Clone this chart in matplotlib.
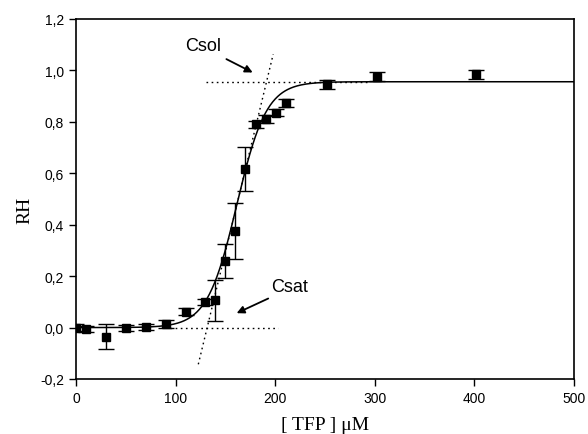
import numpy as np
import matplotlib
matplotlib.use("Agg")
import matplotlib.pyplot as plt

# ---- data ----
tfp = [0, 10, 30, 50, 70, 90, 110, 130, 140, 150, 160, 170, 181, 191, 201, 211, 252, 302, 402]
rh = [0.0, -0.004, -0.035, -0.003, 0.003, 0.013, 0.062, 0.100, 0.106, 0.258, 0.375, 0.618, 0.790, 0.812, 0.836, 0.873, 0.946, 0.976, 0.985]
rh_err = [0.012, 0.012, 0.047, 0.012, 0.012, 0.015, 0.015, 0.012, 0.080, 0.066, 0.110, 0.085, 0.015, 0.015, 0.015, 0.015, 0.018, 0.018, 0.018]

# Boltzmann fit parameters
fit_A1 = 0.0
fit_A2 = 0.956
fit_x0 = 161.5
fit_dx = 14.9

# tangent / limit lines
csat = 131.7
csol = 191.3
tangent_x = [122.8, 198.0]
low_line_x = [94, 203]
high_line_x = [131, 292]

xticks = [0, 100, 200, 300, 400, 500]
yticks = [-0.2, 0.0, 0.2, 0.4, 0.6, 0.8, 1.0, 1.2]
ytick_labels = ["-0,2", "0,0", "0,2", "0,4", "0,6", "0,8", "1,0", "1,2"]

fig = plt.figure(figsize=(5.88, 4.35), dpi=100)
ax = fig.add_axes([76 / 588, 1 - 380 / 435, (574 - 76) / 588, (380 - 20) / 435])

# fitted curve
xf = np.linspace(0, 500, 1001)
yf = fit_A2 + (fit_A1 - fit_A2) / (1 + np.exp((xf - fit_x0) / fit_dx))
ax.plot(xf, yf, color="black", lw=1.1, zorder=2)

# tangent line through Csat and Csol
slope = (fit_A2 - fit_A1) / (csol - csat)
tx = np.array(tangent_x)
dot = (0, (1.2, 2.5))
ax.plot(tx, fit_A1 + slope * (tx - csat), color="black", lw=1.0, ls=dot, zorder=1)
ax.plot(low_line_x, [fit_A1, fit_A1], color="black", lw=1.0, ls=dot, zorder=1)
ax.plot(high_line_x, [fit_A2, fit_A2], color="black", lw=1.0, ls=dot, zorder=1)

# data with error bars
ax.errorbar(tfp, rh, yerr=rh_err, fmt="s", color="black", ms=6.0, mec="black", mfc="black",
            ecolor="black", elinewidth=1.0, capsize=5.5, capthick=1.0, zorder=3)

# annotations
ax.text(127.5, 1.095, "Csol", ha="center", va="center", fontsize=13, family="Liberation Sans")
ax.annotate("", xy=(177.4, 0.992), xytext=(151, 1.044),
            arrowprops=dict(arrowstyle="-|>", color="black", lw=1.3, mutation_scale=11,
                            shrinkA=0, shrinkB=0))
ax.text(214, 0.161, "Csat", ha="center", va="center", fontsize=13, family="Liberation Sans")
ax.annotate("", xy=(161.3, 0.056), xytext=(193, 0.113),
            arrowprops=dict(arrowstyle="-|>", color="black", lw=1.3, mutation_scale=11,
                            shrinkA=0, shrinkB=0))

ax.set_xlim(0, 500)
ax.set_ylim(-0.2, 1.2)
ax.set_xticks(xticks)
ax.set_xticklabels([str(t) for t in xticks], family="Liberation Sans", fontsize=10)
ax.set_yticks(yticks)
ax.set_yticklabels(ytick_labels, family="Liberation Sans", fontsize=10)
ax.tick_params(direction="out", length=5, width=1.0, top=False, right=False)
for sp in ax.spines.values():
    sp.set_linewidth(1.2)

ax.set_xlabel("[ TFP ] μM", family="Liberation Serif", fontsize=14, labelpad=8)
ax.set_ylabel("RH", family="Liberation Serif", fontsize=14, labelpad=6)
ax.yaxis.set_label_coords(-0.085, 0.47)

fig.savefig("out.png", dpi=100)
